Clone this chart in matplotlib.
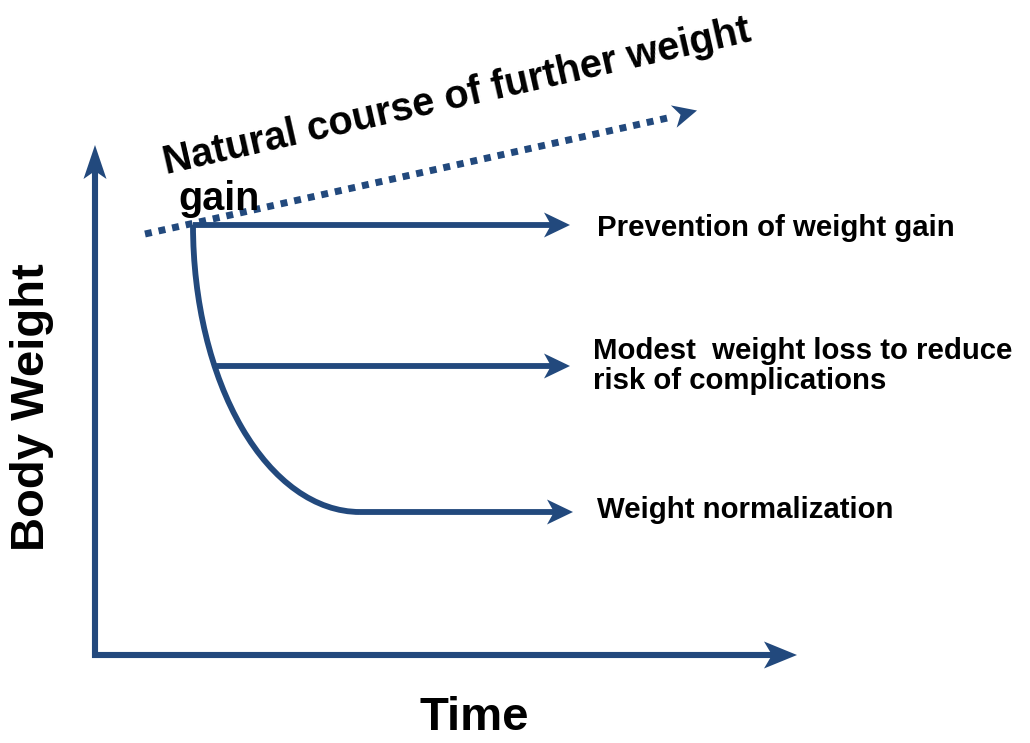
import matplotlib
matplotlib.use("Agg")
import numpy as np
import matplotlib.pyplot as plt
from matplotlib.patches import Arc, Polygon

plt.rcParams['font.family'] = ['Liberation Sans', 'DejaVu Sans']

# --- content ---
x_label = "Time"
y_label = "Body Weight"
trend_label_line1 = "Natural course of further weight"
trend_label_line2 = "gain"
outcome_labels = ["Prevention of weight gain",
                  "Modest  weight loss to reduce\nrisk of complications",
                  "Weight normalization"]
# levels of the outcome arrows (pixel-space diagram coordinates)
outcome_levels = [225, 366, 512]
outcome_starts = [193, 215, 360]
outcome_ends = [570, 570, 573]

C = '#22497d'

fig = plt.figure(figsize=(10.30, 7.43), dpi=100)
ax = fig.add_axes([0, 0, 1, 1])
ax.set_xlim(0, 1030)
ax.set_ylim(743, 0)
ax.axis('off')


def arrow(p0, p1, lw=4.2, L=22, W=22, notch=6, ls='-', draw_line=True):
    p0 = np.asarray(p0, float)
    p1 = np.asarray(p1, float)
    d = p1 - p0
    u = d / np.hypot(*d)
    n = np.array([-u[1], u[0]])
    back = p1 - u * L
    nb = back + u * notch
    if draw_line:
        ax.plot([p0[0], nb[0] + u[0] * 2], [p0[1], nb[1] + u[1] * 2], color=C, lw=lw,
                linestyle=ls, solid_capstyle='butt')
    head = [p1, back + n * W / 2, nb, back - n * W / 2]
    ax.add_patch(Polygon(head, closed=True, color=C, lw=0))


# axes
arrow((95, 658), (95, 145), lw=4.4, L=34, W=23, notch=8)
arrow((92, 655), (797, 655), lw=4.4, L=33, W=27, notch=8)

# trend dotted line
ax.plot([145, 672], [234, 117], color=C, lw=5.0, linestyle=(0, (1, 1)),
        solid_capstyle='butt', dash_capstyle='butt')
arrow((672, 117), (697, 110.5), L=24, W=23, notch=7, draw_line=False)

# weight-loss curve (quarter ellipse)
ax.add_patch(Arc((360, 225), 334, 574, theta1=90, theta2=180, color=C, lw=4.2))

# outcome arrows
for y, x0, x1 in zip(outcome_levels, outcome_starts, outcome_ends):
    arrow((x0, y), (x1, y), lw=4.2, L=26, W=25, notch=7)

# outcome labels
ax.text(597, 228, outcome_labels[0], fontsize=21.2, fontweight='bold', va='center', ha='left')
ax.text(593, 366, outcome_labels[1], fontsize=21.2, fontweight='bold', va='center', ha='left',
        linespacing=1.1)
ax.text(597, 510, outcome_labels[2], fontsize=21.2, fontweight='bold', va='center', ha='left')

ax.text(166, 174, trend_label_line1, fontsize=28.5, fontweight='bold', rotation=12.8,
        rotation_mode='anchor', ha='left', va='baseline')
ax.text(178, 210, trend_label_line2, fontsize=28.5, fontweight='bold', ha='left', va='baseline')

ax.text(474, 718, x_label, fontsize=34, fontweight='bold', ha='center', va='center')
ax.text(32, 407, y_label, fontsize=34, fontweight='bold', ha='center', va='center', rotation=90)

fig.savefig('out.png', dpi=100)
